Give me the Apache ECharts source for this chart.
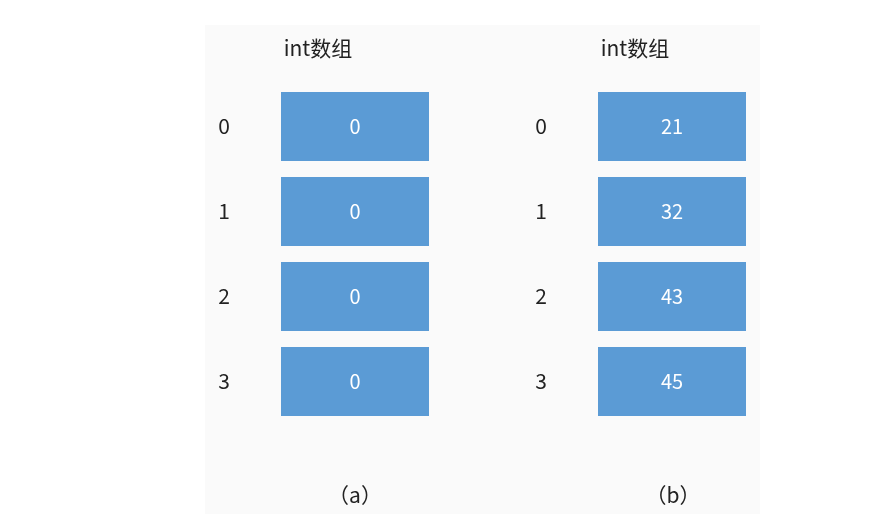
<!DOCTYPE html>
<html><head><meta charset="utf-8">
<script src="https://cdn.jsdelivr.net/npm/echarts@6/dist/echarts.min.js"></script>
<style>html,body{margin:0;padding:0;background:#fff}#c{width:883px;height:514px}</style>
</head><body><div id="c"></div>
<script>
const indices = ['0', '1', '2', '3'];
const arrayA = [0, 0, 0, 0];
const arrayB = [21, 32, 43, 45];
const titles = ['int数组', 'int数组'];
const captions = ['（a）', '（b）'];

const font = '"Microsoft YaHei","Noto Sans CJK SC","Noto Sans",sans-serif';
const chart = echarts.init(document.getElementById('c'));
function grid(left){return {left:left, width:148, top:84, height:340};}
function yAxis(i){return {type:'category', gridIndex:i, data:indices, inverse:true,
  axisLine:{show:false}, axisTick:{show:false}, splitLine:{show:false},
  axisLabel:{margin:51, color:'#222', fontSize:21, fontFamily:font}};}
function xAxis(i){return {type:'value', gridIndex:i, min:0, max:1, show:false};}
function series(i, vals){return {type:'bar', xAxisIndex:i, yAxisIndex:i, barWidth:69,
  data:vals.map(v=>({value:1, raw:v})),
  itemStyle:{color:'#5b9bd5'}, silent:true,
  label:{show:true, position:'inside', color:'#fff', fontSize:20, fontFamily:font,
    formatter:p=>String(p.data.raw)}};}
chart.setOption({
  animation:false,
  graphic:[{type:'rect', shape:{x:205,y:25,width:555,height:489}, style:{fill:'#fafafa'}, z:-10}],
  title:[
    {text:titles[0], left:313, top:33, textAlign:'center', textStyle:{fontSize:21,fontWeight:'normal',color:'#222',fontFamily:font}},
    {text:titles[1], left:630, top:33, textAlign:'center', textStyle:{fontSize:21,fontWeight:'normal',color:'#222',fontFamily:font}},
    {text:captions[0], left:350, top:480, textAlign:'center', textStyle:{fontSize:21,fontWeight:'normal',color:'#222',fontFamily:font}},
    {text:captions[1], left:668, top:480, textAlign:'center', textStyle:{fontSize:21,fontWeight:'normal',color:'#222',fontFamily:font}}
  ],
  grid:[grid(281), grid(598)],
  xAxis:[xAxis(0), xAxis(1)],
  yAxis:[yAxis(0), yAxis(1)],
  series:[series(0, arrayA), series(1, arrayB)]
});
</script></body></html>
